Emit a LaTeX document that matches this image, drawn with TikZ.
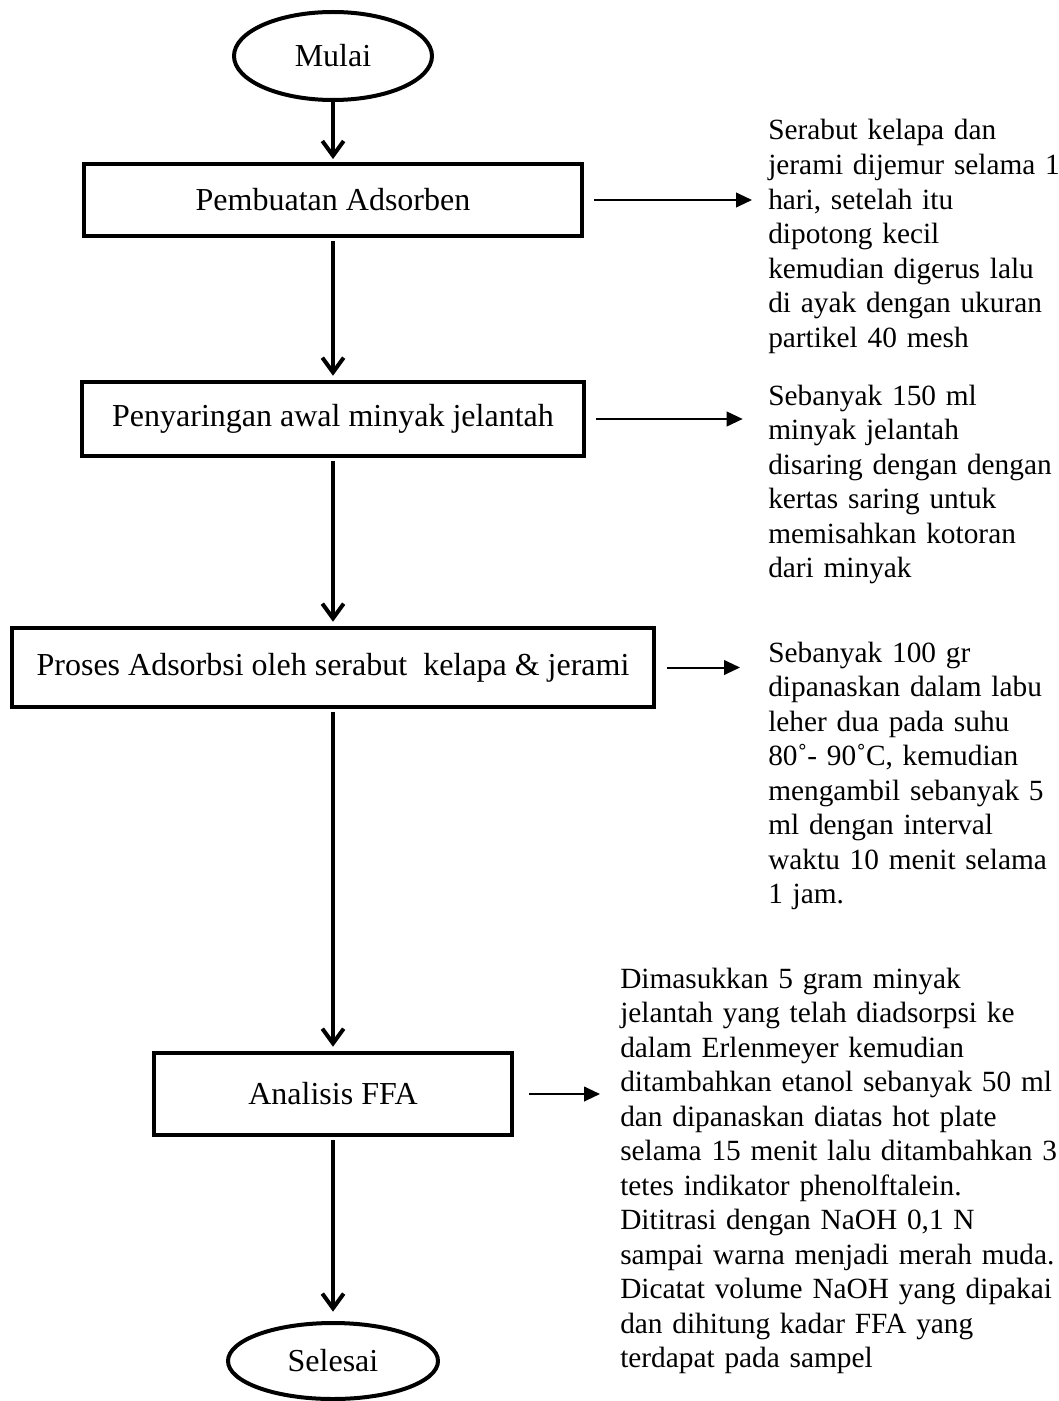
\documentclass[tikz,border=0pt]{standalone}
\usepackage{fontspec}
\setmainfont{Liberation Serif}
\usetikzlibrary{arrows.meta,shapes.geometric}
\begin{document}
\begin{tikzpicture}[x=0.75pt,y=-0.75pt,
  procbox/.style={draw,line width=3.4pt,inner sep=0pt,font=\fontsize{24}{28}\selectfont},
  termnode/.style={draw,ellipse,line width=3pt,inner sep=0pt,font=\fontsize{24}{28}\selectfont},
  note/.style={anchor=base west,inner sep=0pt,text width=360pt,align=left,font=\fontsize{22}{25.9}\selectfont},
  flow/.style={line width=3pt,-{Straight Barb[length=11pt,width=16pt]}},
  side/.style={line width=1.5pt,-{Triangle[length=12pt,width=11pt]}}]
\useasboundingbox (0,0) rectangle (1058,1401);
\node[termnode,minimum width=148.5pt,minimum height=66pt] (mulai) at (333,56) {Mulai};
\node[procbox,minimum width=373.5pt,minimum height=54pt] (b1) at (333,200) {Pembuatan Adsorben};
\node[procbox,minimum width=376.5pt,minimum height=55.5pt] (b2) at (333,419) {Penyaringan awal minyak jelantah};
\node[procbox,minimum width=481.5pt,minimum height=59.25pt] (b3) at (333,667.5) {Proses Adsorbsi oleh serabut\ \ kelapa \& jerami};
\node[procbox,minimum width=268.5pt,minimum height=61.5pt] (b4) at (333,1094) {Analisis FFA};
\node[termnode,minimum width=157.5pt,minimum height=57pt] (sel) at (333,1361) {Selesai};

\node[note] (t1) at (768,140) {Serabut kelapa dan\\jerami dijemur selama 1\\hari, setelah itu\\dipotong kecil\\kemudian digerus lalu\\di ayak dengan ukuran\\partikel 40 mesh};
\node[note] (t2) at (768,405) {Sebanyak 150 ml\\minyak jelantah\\disaring dengan dengan\\kertas saring untuk\\memisahkan kotoran\\dari minyak};
\node[note] (t3) at (768,662) {Sebanyak 100 gr\\dipanaskan dalam labu\\leher dua pada suhu\\80˚- 90˚C, kemudian\\mengambil sebanyak 5\\ml dengan interval\\waktu 10 menit selama\\1 jam.};
\node[note] (t4) at (620,988) {Dimasukkan 5 gram minyak\\jelantah yang telah diadsorpsi ke\\dalam Erlenmeyer kemudian\\ditambahkan etanol sebanyak 50 ml\\dan dipanaskan diatas hot plate\\selama 15 menit lalu ditambahkan 3\\tetes indikator phenolftalein.\\Dititrasi dengan NaOH 0,1 N\\sampai warna menjadi merah muda.\\Dicatat volume NaOH yang dipakai\\dan dihitung kadar FFA yang\\terdapat pada sampel};

\draw[flow,shorten >=2pt] (mulai.south) -- (b1.north);
\draw[flow,shorten <=2pt,shorten >=3pt] (b1.south) -- (b2.north);
\draw[flow,shorten <=2pt,shorten >=3pt] (b2.south) -- (b3.north);
\draw[flow,shorten <=2pt,shorten >=3pt] (b3.south) -- (b4.north);
\draw[flow,shorten <=2pt,shorten >=7pt] (b4.south) -- (sel.north);

\draw[side,shorten <=7.5pt,shorten >=12pt] (b1.east) -- (t1.west |- b1.east);
\draw[side,shorten <=7.5pt,shorten >=19pt] (b2.east) -- (t2.west |- b2.east);
\draw[side,shorten <=8pt,shorten >=21pt] (b3.east) -- (t3.west |- b3.east);
\draw[side,shorten <=11pt,shorten >=15pt] (b4.east) -- (t4.west |- b4.east);
\end{tikzpicture}
\end{document}
